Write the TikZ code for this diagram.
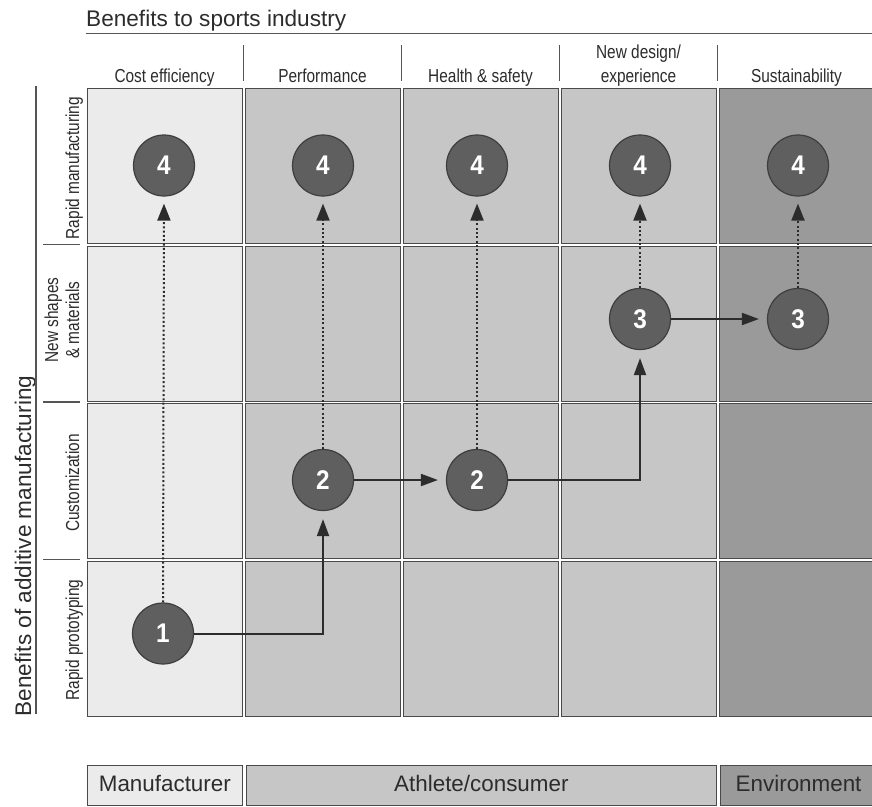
\documentclass[tikz,border=0pt]{standalone}
\usepackage{fontspec}
\setmainfont{Liberation Sans}
\newfontfamily\narrowfont[FakeStretch=0.82]{Liberation Sans}
\newfontfamily\numfont[FakeStretch=0.9]{Liberation Sans}
\usetikzlibrary{arrows.meta}

\definecolor{lightcell}{HTML}{EBEBEB}
\definecolor{midcell}{HTML}{C6C6C6}
\definecolor{darkcell}{HTML}{9A9A9A}
\definecolor{rim}{HTML}{4A4A4A}
\definecolor{discfill}{HTML}{5F5F5F}
\definecolor{discrim}{HTML}{3E3E3E}
\definecolor{ink}{HTML}{2C2C2C}
\definecolor{rule}{HTML}{555555}

\tikzset{
  cell/.style={draw=rim, line width=1.4pt, minimum width=155pt, minimum height=155pt,
    inner sep=0pt, anchor=north west},
  stage/.style={circle, fill=discfill, draw=discrim, line width=1.2pt, minimum size=61pt,
    inner sep=0pt, text=white, font=\numfont\bfseries\fontsize{27}{27}\selectfont},
  colhead/.style={anchor=base, text=ink, inner sep=0pt, font=\narrowfont\fontsize{18.8}{24}\selectfont},
  rowhead/.style={anchor=base, rotate=90, text=ink, inner sep=0pt, font=\narrowfont\fontsize{18.8}{21}\selectfont},
  axistitle/.style={text=ink, inner sep=0pt, font=\fontsize{22.6}{26}\selectfont},
  legendbox/.style={draw=rim, line width=1.2pt, minimum height=40pt, inner sep=0pt,
    anchor=north west, text=ink, text height=16pt, text depth=4pt,
    font=\fontsize{22.4}{26}\selectfont},
  flow/.style={-{Triangle[length=17pt,width=12pt]}, line width=2pt, draw=ink, shorten >=8pt},
  lift/.style={-{Triangle[length=17pt,width=13pt]}, line width=2pt, draw=ink,
    dash pattern=on 2pt off 2.3pt, shorten >=7pt},
  guide/.style={draw=rule, line width=1.2pt}
}

\begin{document}
\begin{tikzpicture}[x=1pt, y=-1pt]
\useasboundingbox (0,0) rectangle (872,806);

% axis titles
\node[axistitle, anchor=base west] (toptitle) at (86,26) {Benefits to sports industry};
\node[axistitle, anchor=base, rotate=90] (lefttitle) at (31,546) {Benefits of additive manufacturing};

% guide rules
\draw[guide, line width=1.5pt] (86,33.5) -- (872,33.5);
\draw[guide] (36,86) -- (36,714);
\foreach \x in {243.5,401.5,559.5,717.5} \draw[guide] (\x,45) -- (\x,81);
\foreach \y in {244.5,402,559.5} \draw[guide] (43,\y) -- (80,\y);

% column headings
\node[colhead] (hcost) at (164.5,82) {Cost efficiency};
\node[colhead] (hperf) at (322.5,82) {Performance};
\node[colhead] (hsafe) at (480.5,82) {Health \& safety};
\node[colhead] (hdesign) at (638.5,82) {\begin{tabular}[b]{@{}c@{}}New design/\\experience\end{tabular}};
\node[colhead] (hsust) at (796.5,82) {Sustainability};

% row headings
\node[rowhead] (rman) at (79,168) {Rapid manufacturing};
\node[rowhead] (rnew) at (79,320) {\begin{tabular}[b]{@{}c@{}}New shapes\\\& materials\end{tabular}};
\node[rowhead] (rcust) at (79,483) {Customization};
\node[rowhead] (rproto) at (79,640) {Rapid prototyping};

% grid of cells
\foreach \r/\y in {1/88,2/245.5,3/403,4/560.5}{
  \node[cell, fill=lightcell] (c\r a) at (87,\y) {};
  \node[cell, fill=midcell]   (c\r b) at (245,\y) {};
  \node[cell, fill=midcell]   (c\r c) at (403,\y) {};
  \node[cell, fill=midcell]   (c\r d) at (561,\y) {};
  \node[cell, fill=darkcell]  (c\r e) at (719,\y) {};
}

% stages
\node[stage] (s4a) at (164,165.5) {4};
\node[stage] (s4b) at (323,165.5) {4};
\node[stage] (s4c) at (477,165.5) {4};
\node[stage] (s4d) at (640,165.5) {4};
\node[stage] (s4e) at (798,165.5) {4};
\node[stage] (s3d) at (640,319) {3};
\node[stage] (s3e) at (798,319) {3};
\node[stage] (s2b) at (323,480) {2};
\node[stage] (s2c) at (477,480) {2};
\node[stage] (s1a) at (163,633.5) {1};

% progression
\draw[flow] (s1a.east) -| (s2b.south);
\draw[flow] (s2b.east) -- (s2c.west);
\draw[flow] (s2c.east) -| (s3d.south);
\draw[flow] (s3d.east) -- (s3e.west);

% rapid manufacturing in every column
\draw[lift] (s1a.north) -- (s4a.south);
\draw[lift] (s2b.north) -- (s4b.south);
\draw[lift] (s2c.north) -- (s4c.south);
\draw[lift] (s3d.north) -- (s4d.south);
\draw[lift] (s3e.north) -- (s4e.south);

% stakeholder legend
\node[legendbox, fill=lightcell, minimum width=155.5pt] (manu) at (86.5,765) {Manufacturer};
\node[legendbox, fill=midcell, minimum width=470.5pt] (athl) at (245.5,765) {Athlete/consumer};
\node[legendbox, fill=darkcell, minimum width=156pt] (envi) at (720,765) {Environment};
\end{tikzpicture}
\end{document}
